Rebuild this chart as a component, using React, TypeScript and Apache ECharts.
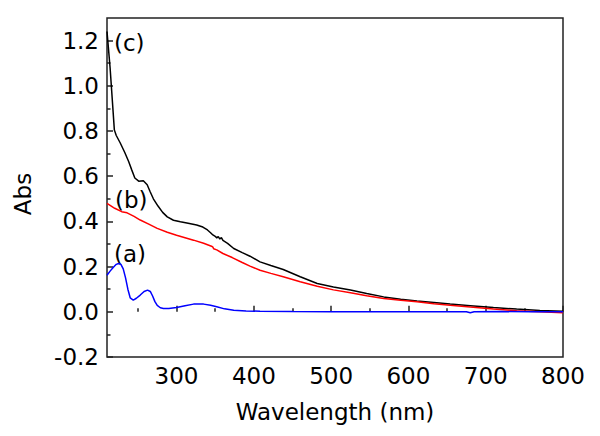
import React, { useEffect, useRef } from "react";
import * as echarts from "echarts";

// Wavelength (nm) / absorbance readings for each curve
const cWavelength = [210, 212, 214, 216, 218, 219.5, 222, 227, 233, 238, 242, 246, 251, 257, 262, 266, 270, 276, 282, 288, 296, 305, 315, 326, 334, 340, 344, 347, 350, 352, 354, 356, 358, 360, 366, 374, 385, 395, 408, 422, 438, 460, 482, 503, 525, 546, 568, 590, 611, 633, 654, 680, 710, 740, 770, 800];
const cAbs = [1.24, 1.16, 1.08, 0.98, 0.88, 0.805, 0.78, 0.748, 0.705, 0.665, 0.628, 0.592, 0.578, 0.58, 0.562, 0.53, 0.5, 0.468, 0.44, 0.42, 0.405, 0.398, 0.392, 0.384, 0.375, 0.362, 0.35, 0.34, 0.334, 0.327, 0.333, 0.322, 0.328, 0.316, 0.303, 0.28, 0.262, 0.246, 0.221, 0.205, 0.187, 0.155, 0.125, 0.11, 0.096, 0.081, 0.066, 0.056, 0.048, 0.041, 0.034, 0.027, 0.019, 0.012, 0.006, 0.002];

const bWavelength = [210, 220, 229, 236, 245, 253, 264, 275, 288, 300, 311, 322, 335, 346, 347, 348, 352, 360, 372, 385, 395, 408, 422, 438, 460, 482, 503, 525, 546, 568, 590, 611, 633, 654, 680, 710, 740, 770, 800];
const bAbs = [0.48, 0.458, 0.443, 0.438, 0.422, 0.406, 0.388, 0.369, 0.352, 0.339, 0.328, 0.317, 0.303, 0.289, 0.286, 0.279, 0.274, 0.258, 0.24, 0.218, 0.202, 0.184, 0.17, 0.155, 0.133, 0.113, 0.097, 0.084, 0.071, 0.059, 0.051, 0.044, 0.036, 0.029, 0.021, 0.012, 0.005, 0.0, -0.004];

const aWavelength = [210, 214, 218, 222, 225, 228, 231, 234, 237, 240, 244, 248, 253, 258, 262.5, 266, 269, 272, 275, 279, 283, 290, 300, 311, 322, 335, 344, 352, 362, 374, 390, 408, 450, 500, 550, 600, 650, 675, 680, 685, 720, 760, 800];
const aAbs = [0.162, 0.18, 0.196, 0.21, 0.214, 0.21, 0.19, 0.15, 0.1, 0.062, 0.052, 0.06, 0.074, 0.09, 0.096, 0.09, 0.07, 0.045, 0.028, 0.018, 0.0145, 0.015, 0.019, 0.027, 0.034, 0.034, 0.029, 0.022, 0.013, 0.007, 0.004, 0.0025, 0.001, 0.0005, 0.0, 0.0, 0.0, 0.0, -0.004, 0.0, 0.001, 0.0, 0.0];

const xMajorTicks = [300, 400, 500, 600, 700, 800];
const xMinorTicks = [250, 350, 450, 550, 650, 750];
const yMajorTicks = [-0.2, 0.0, 0.2, 0.4, 0.6, 0.8, 1.0, 1.2];
const yMinorTicks = [-0.1, 0.1, 0.3, 0.5, 0.7, 0.9, 1.1];

const curveLabels = ["(a)", "(b)", "(c)"];

const FONT = "DejaVu Sans";
const AXIS_COLOR = "#222";

function zip(xs: number[], ys: number[]) {
  return xs.map((x, i) => [x, ys[i]]);
}

export default function App() {
  const ref = useRef<HTMLDivElement>(null);
  useEffect(() => {
    if (!ref.current) return;
    const chart = echarts.init(ref.current, undefined, { renderer: "svg" });
    const baseX = { type: "value", min: 210, max: 800, gridIndex: 0, splitLine: { show: false }, axisLine: { show: false } };
    const baseY = { type: "value", min: -0.2, max: 1.3, gridIndex: 0, splitLine: { show: false }, axisLine: { show: false } };
    chart.setOption({
      animation: false,
      backgroundColor: "#fff",
      grid: { left: 107, right: 37, top: 18, bottom: 79, show: true, borderColor: AXIS_COLOR, borderWidth: 1.5, backgroundColor: "transparent" },
      xAxis: [
        {
          ...baseX,
          position: "bottom",
          axisTick: { show: true, inside: true, length: 6, customValues: xMajorTicks, lineStyle: { color: AXIS_COLOR, width: 1.5 } },
          axisLabel: { show: true, customValues: xMajorTicks, margin: 7, color: "#000", fontFamily: FONT, fontSize: 23 },
        },
        {
          ...baseX,
          position: "bottom",
          axisTick: { show: true, inside: true, length: 3.5, customValues: xMinorTicks, lineStyle: { color: AXIS_COLOR, width: 1.5 } },
          axisLabel: { show: false },
        },
      ],
      yAxis: [
        {
          ...baseY,
          position: "left",
          axisTick: { show: true, inside: true, length: 6, customValues: yMajorTicks, lineStyle: { color: AXIS_COLOR, width: 1.5 } },
          axisLabel: { show: true, customValues: yMajorTicks, margin: 8, color: "#000", fontFamily: FONT, fontSize: 23, formatter: (v: number) => v.toFixed(1) },
        },
        {
          ...baseY,
          position: "left",
          axisTick: { show: true, inside: true, length: 3.5, customValues: yMinorTicks, lineStyle: { color: AXIS_COLOR, width: 1.5 } },
          axisLabel: { show: false },
        },
      ],
      series: [
        { type: "line", name: "(c)", data: zip(cWavelength, cAbs), xAxisIndex: 0, yAxisIndex: 0, showSymbol: false, symbol: "none", lineStyle: { color: "#000", width: 1.5 }, z: 3 },
        { type: "line", name: "(b)", data: zip(bWavelength, bAbs), xAxisIndex: 0, yAxisIndex: 0, showSymbol: false, symbol: "none", lineStyle: { color: "#ff0000", width: 1.5 }, z: 4 },
        { type: "line", name: "(a)", data: zip(aWavelength, aAbs), xAxisIndex: 0, yAxisIndex: 0, showSymbol: false, symbol: "none", lineStyle: { color: "#0000ff", width: 1.5 }, z: 5 },
      ],
      graphic: [
        { type: "text", x: 22.5, y: 194, rotation: Math.PI / 2, style: { text: "Abs", font: `23px "${FONT}"`, fill: "#000", align: "center", verticalAlign: "middle" } },
        { type: "text", x: 335, y: 412, style: { text: "Wavelength (nm)", font: `23px "${FONT}"`, fill: "#000", align: "center", verticalAlign: "middle" } },
        { type: "text", x: 114, y: 43, style: { text: curveLabels[2], font: `23px "${FONT}"`, fill: "#000", align: "left", verticalAlign: "middle" } },
        { type: "text", x: 115, y: 200, style: { text: curveLabels[1], font: `23px "${FONT}"`, fill: "#000", align: "left", verticalAlign: "middle" } },
        { type: "text", x: 114, y: 254, style: { text: curveLabels[0], font: `23px "${FONT}"`, fill: "#000", align: "left", verticalAlign: "middle" } },
      ],
    });
    return () => chart.dispose();
  }, []);
  return <div ref={ref} style={{ width: 600, height: 436, position: "fixed", left: 0, top: 0 }} />;
}
